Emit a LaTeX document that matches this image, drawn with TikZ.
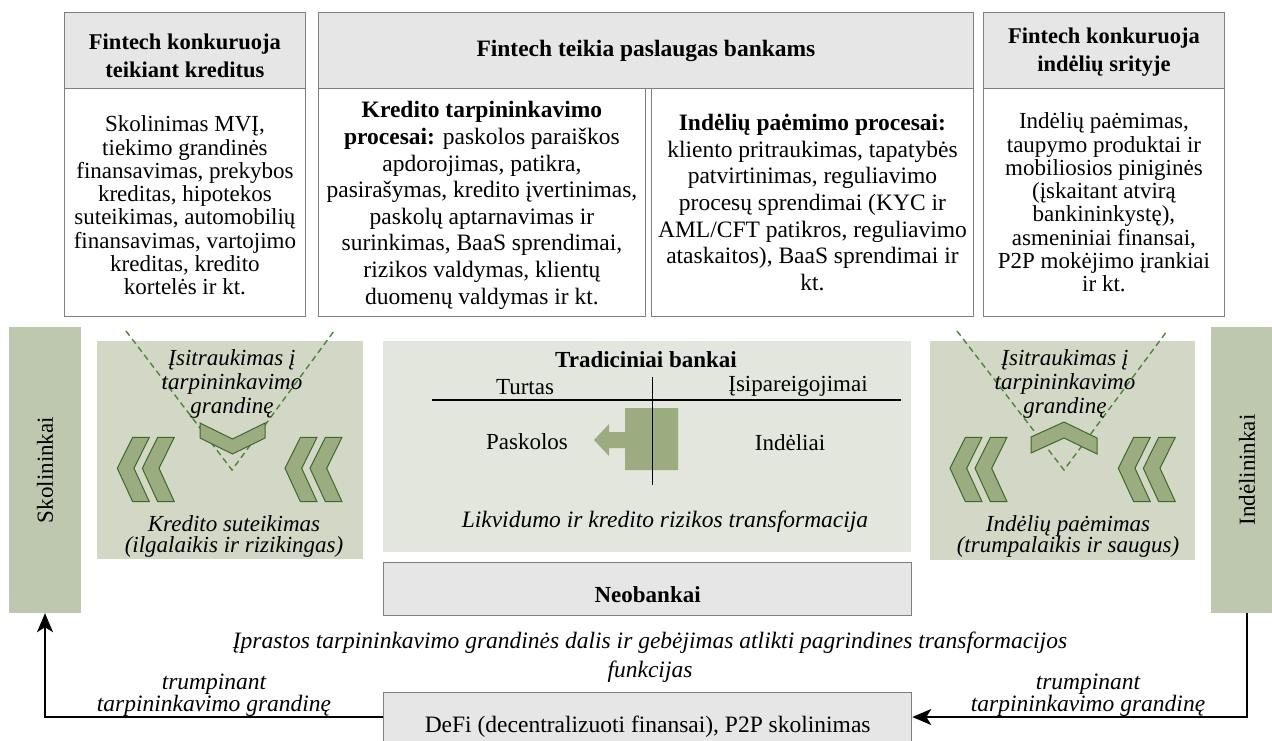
\documentclass[tikz,border=0pt]{standalone}
\usepackage{fontspec}
\setmainfont{Liberation Serif}
\usetikzlibrary{arrows.meta,calc}
\definecolor{barG}{RGB}{190,200,175}
\definecolor{panelG}{RGB}{211,215,198}
\definecolor{centerG}{RGB}{227,230,220}
\definecolor{chevF}{RGB}{155,172,128}
\definecolor{chevD}{RGB}{62,105,42}
\definecolor{dashG}{RGB}{80,130,60}
\definecolor{hdrF}{RGB}{230,230,230}
\definecolor{lineG}{RGB}{128,128,128}
\newcommand\setfs[2]{\fontsize{#1}{#2}\selectfont}
\begin{document}
\begin{tikzpicture}[x=1pt,y=-1pt,
  box/.style={draw=lineG, line width=0.9pt, inner sep=0pt, anchor=north west},
  hdr/.style={box, fill=hdrF},
  body/.style={box, fill=white},
  hdrtxt/.style={font=\bfseries\setfs{22.5}{28}, align=center, inner sep=0pt},
  bodyS/.style={font=\setfs{23}{23.3}, align=center, inner sep=0pt},
  bodyM/.style={font=\setfs{23.5}{26.6}, align=center, inner sep=0pt},
  bar/.style={fill=barG, inner sep=0pt, rotate=90, minimum width=286pt, minimum height=72pt, font=\setfs{23}{26}},
  panel/.style={fill=panelG, inner sep=0pt, anchor=north west},
  cpanel/.style={fill=centerG, inner sep=0pt, anchor=north west},
  gbox/.style={draw=lineG, line width=1.3pt, fill=hdrF, inner sep=0pt, anchor=north west, minimum width=528pt},
  ptxt/.style={font=\itshape\setfs{23}{24}, align=center, inner sep=0pt},
  ptxtb/.style={font=\itshape\setfs{23}{21}, align=center, inner sep=0pt},
  ctxt/.style={font=\setfs{23}{26}, inner sep=0pt},
  lbl/.style={font=\itshape\setfs{23.5}{20.5}, align=center, inner sep=0pt},
  chevshape/.style={fill=chevF, draw=chevD, line width=1pt, line join=miter},
  dashv/.style={draw=dashG, dashed, dash pattern=on 6pt off 4pt, line width=1.4pt},
  conn/.style={draw=black, line width=2pt, -{Stealth[length=19pt,width=16pt,inset=5pt]}},
  chevpair/.pic={
    \foreach \dx in {0,25}{
      \path[chevshape] (\dx,0) -- (\dx+15.4,-31) -- (\dx+32,-31) -- (\dx+16.7,0)
        -- (\dx+32,33.4) -- (\dx+15.4,33.4) -- cycle;
    }
  }
]
\useasboundingbox (0,0) rectangle (1272,740);

% ---------- top boxes ----------
\node[hdr, minimum width=241pt, minimum height=76pt] (h1) at (64,12) {};
\node[body, minimum width=241pt, minimum height=228pt] (b1) at (64,88) {};
\node[hdr, minimum width=655pt, minimum height=76pt] (h2) at (318,12) {};
\node[body, minimum width=327pt, minimum height=228pt] (b2a) at (318,88) {};
\node[body, minimum width=322pt, minimum height=228pt] (b2b) at (651,88) {};
\node[hdr, minimum width=241pt, minimum height=76pt] (h3) at (983,12) {};
\node[body, minimum width=241pt, minimum height=228pt] (b3) at (983,88) {};

\node[hdrtxt] (h1t) at ([yshift=-5pt]h1.center) {Fintech konkuruoja\\teikiant kreditus};
\node[hdrtxt, font=\bfseries\setfs{23.5}{28}] (h2t) at (h2.center) {Fintech teikia paslaugas bankams};
\node[hdrtxt] (h3t) at ([yshift=-2pt]h3.center) {Fintech konkuruoja\\indėlių srityje};

\node[bodyS] (b1t) at ([yshift=-3pt]b1.center)
  {Skolinimas MVĮ,\\tiekimo grandinės\\finansavimas, prekybos\\kreditas, hipotekos\\suteikimas, automobilių\\finansavimas, vartojimo\\kreditas, kredito\\kortelės ir kt.};
\node[bodyM] (b2at) at ([yshift=-3pt]b2a.center)
  {\textbf{Kredito tarpininkavimo}\\\textbf{procesai:} paskolos paraiškos\\apdorojimas, patikra,\\pasirašymas, kredito įvertinimas,\\paskolų aptarnavimas ir\\surinkimas, BaaS sprendimai,\\rizikos valdymas, klientų\\duomenų valdymas ir kt.};
\node[bodyM] (b2bt) at (b2b.center)
  {\textbf{Indėlių paėmimo procesai:}\\kliento pritraukimas, tapatybės\\patvirtinimas, reguliavimo\\procesų sprendimai (KYC ir\\AML/CFT patikros, reguliavimo\\ataskaitos), BaaS sprendimai ir\\kt.};
\node[bodyS] (b3t) at (b3.center)
  {Indėlių paėmimas,\\taupymo produktai ir\\mobiliosios piniginės\\(įskaitant atvirą\\bankininkystę),\\asmeniniai finansai,\\P2P mokėjimo įrankiai\\ir kt.};

% ---------- side bars ----------
\node[bar] (skol) at (45,470) {Skolininkai};
\node[bar] (ind) at (1247,470) {Indėlininkai};

% ---------- left panel ----------
\node[panel, minimum width=266pt, minimum height=218pt] (lp) at (97,341) {};
\draw[dashv] (126,331) -- (232,470) -- (334,331);
\node[ptxt] (lt) at (232,384) {Įsitraukimas į\\tarpininkavimo\\grandinę};
\path[chevshape] (200,423) -- (232.5,439) -- (265,423) -- (265,438) -- (232.5,454) -- (200,438) -- cycle;
\pic at (117.3,468.3) {chevpair};
\pic at (285,468.3) {chevpair};
\node[ptxtb] (lb) at (234,536) {Kredito suteikimas\\(ilgalaikis ir rizikingas)};

% ---------- right panel ----------
\node[panel, minimum width=265pt, minimum height=219pt] (rp) at (930,341) {};
\draw[dashv] (957,331) -- (1064,470) -- (1167,331);
\node[ptxt] (rt) at (1065,384) {Įsitraukimas į\\tarpininkavimo\\grandinę};
\path[chevshape] (1064,422) -- (1097,438) -- (1097,454) -- (1064,438) -- (1031,453) -- (1031,437) -- cycle;
\pic at (950,468.3) {chevpair};
\pic at (1118.3,468.3) {chevpair};
\node[ptxtb] (rb) at (1068,536) {Indėlių paėmimas\\(trumpalaikis ir saugus)};

% ---------- center panel ----------
\node[cpanel, minimum width=528pt, minimum height=211pt] (cp) at (383,341) {};
\node[ctxt, font=\bfseries\setfs{23}{26}] (tb) at (646,360) {Tradiciniai bankai};
\node[ctxt] (turt) at (525,387) {Turtas};
\node[ctxt] (isip) at (798,386) {Įsipareigojimai};
\fill[chevF] (678,408) -- (625,408) -- (625,432) -- (609,432) -- (609,424) -- (594,440)
  -- (609,456) -- (609,448) -- (625,448) -- (625,470) -- (678,470) -- cycle;
\draw[line width=1.5pt] (431.6,400) -- (900.5,400);
\draw[line width=1.5pt] (652.4,377) -- (652.4,485);
\node[ctxt] (pask) at (527,442) {Paskolos};
\node[ctxt] (indel) at (790,443) {Indėliai};
\node[ctxt, font=\itshape\setfs{23.5}{26}] (likv) at (665,522) {Likvidumo ir kredito rizikos transformacija};

% ---------- neobankai / defi ----------
\node[gbox, minimum height=53pt, font=\bfseries\setfs{23}{26}, text height=27pt] (neo) at (383,562) {Neobankai};
\node[lbl, font=\itshape\setfs{23.5}{29}] (note) at (650,657)
  {Įprastos tarpininkavimo grandinės dalis ir gebėjimas atlikti pagrindines transformacijos\\funkcijas};
\node[gbox, minimum height=68pt, font=\setfs{23.5}{26}] (defi) at (383,692) {DeFi (decentralizuoti finansai), P2P skolinimas};

\coordinate (dl) at ([yshift=-25pt]defi.north west);
\coordinate (dr) at ([yshift=-25pt]defi.north east);
\draw[conn] (dl) -| (skol.west);
\draw[conn] (ind.west) |- (dr);
\node[lbl] (ltl) at (214,695) {trumpinant\\tarpininkavimo grandinę};
\node[lbl] (rtl) at (1088,695) {trumpinant\\tarpininkavimo grandinę};
\end{tikzpicture}
\end{document}
